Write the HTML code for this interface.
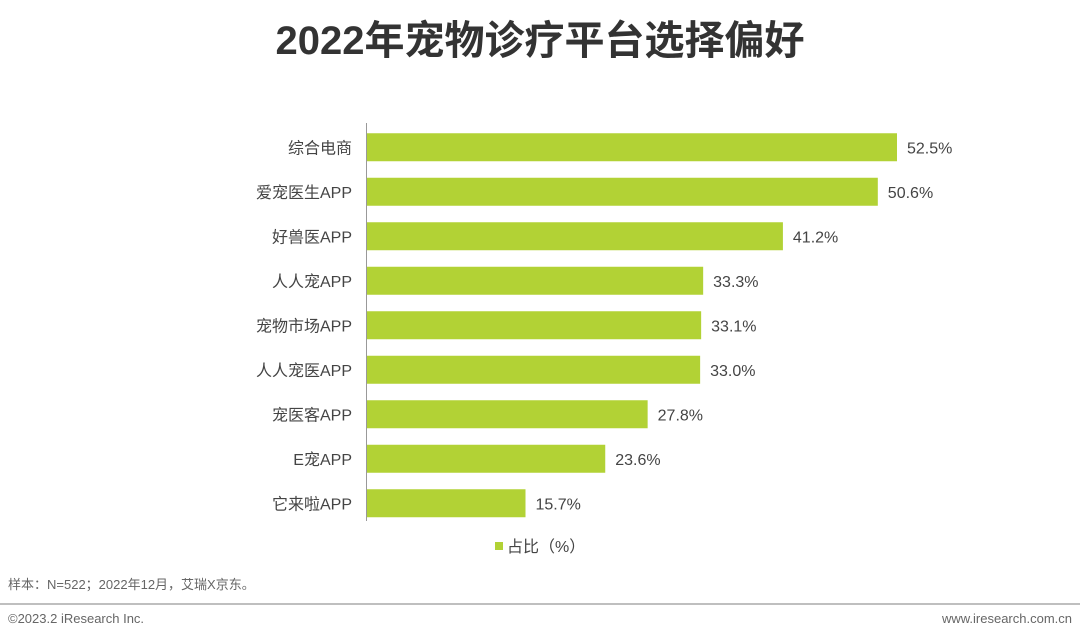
<!DOCTYPE html>
<html><head><meta charset="utf-8"><style>
body{margin:0;background:#fff;}
svg text{font-family:"Liberation Sans","Noto Sans CJK SC",sans-serif;}
</style></head><body>
<svg width="1080" height="638" viewBox="0 0 1080 638" xmlns="http://www.w3.org/2000/svg">
<text x="540" y="54" text-anchor="middle" font-size="40" font-weight="bold" fill="#333">2022年宠物诊疗平台选择偏好</text>
<g id="plot"></g>
<line x1="366.5" y1="123" x2="366.5" y2="521" stroke="#999" stroke-width="1"/>
<rect x="495" y="542" width="8" height="8" fill="#b2d235"/>
<text x="507" y="552" font-size="16" fill="#444">占比（%）</text>
<text x="8" y="589" font-size="13" fill="#666">样本：N=522；2022年12月，艾瑞X京东。</text>
<line x1="0" y1="604" x2="1080" y2="604" stroke="#aaa" stroke-width="1.5"/>
<text x="8" y="623" font-size="13" fill="#666">©2023.2 iResearch Inc.</text>
<text x="1072" y="623" font-size="13" fill="#666" text-anchor="end">www.iresearch.com.cn</text>
</svg>
<script>
const categories=["综合电商","爱宠医生APP","好兽医APP","人人宠APP","宠物市场APP","人人宠医APP","宠医客APP","E宠APP","它来啦APP"];
const values=[52.5,50.6,41.2,33.3,33.1,33.0,27.8,23.6,15.7];
const valueLabels=["52.5%","50.6%","41.2%","33.3%","33.1%","33.0%","27.8%","23.6%","15.7%"];
const NS="http://www.w3.org/2000/svg";
const x0=367, pxPer=10.095;
const xScale=v=>x0+v*pxPer;
const yTop=125, band=44.5, barH=28;
const yScale=i=>yTop+i*band+band/2;
const g=document.getElementById('plot');
categories.forEach((c,i)=>{
  const cy=yScale(i);
  const r=document.createElementNS(NS,'rect');
  r.setAttribute('x',x0);r.setAttribute('y',cy-barH/2);
  r.setAttribute('width',xScale(values[i])-x0);r.setAttribute('height',barH);
  r.setAttribute('fill','#b2d235');
  
  
  g.appendChild(r);
  const t=document.createElementNS(NS,'text');
  t.setAttribute('x',352);t.setAttribute('y',cy+6);
  t.setAttribute('text-anchor','end');t.setAttribute('font-size','16');t.setAttribute('fill','#444');
  t.textContent=c;
  
  
  g.appendChild(t);
  const v=document.createElementNS(NS,'text');
  v.setAttribute('x',xScale(values[i])+10);v.setAttribute('y',cy+6);
  v.setAttribute('font-size','16');v.setAttribute('fill','#444');
  v.textContent=valueLabels[i];
  
  
  g.appendChild(v);
});
</script>
</body></html>
